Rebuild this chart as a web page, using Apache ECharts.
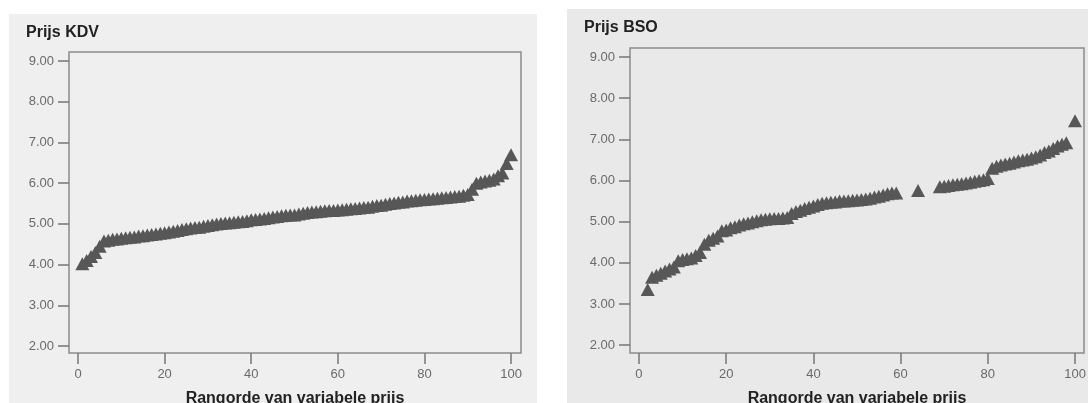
<!DOCTYPE html>
<html>
<head>
<meta charset="utf-8">
<script src="https://cdn.jsdelivr.net/npm/echarts@6/dist/echarts.min.js"></script>
<style>
html,body{margin:0;padding:0;background:#ffffff;}
#chart{width:1088px;height:403px;}
</style>
</head>
<body>
<div id="chart"></div>
<script>
// ---- data ----
const titleKDV = "Prijs KDV";
const titleBSO = "Prijs BSO";
const xAxisName = "Rangorde van variabele prijs";
const xTicks = [0, 20, 40, 60, 80, 100];
const yTicks = [2, 3, 4, 5, 6, 7, 8, 9];

const kdvRanks = [1,2,3,4,5,6,7,8,9,10,11,12,13,14,15,16,17,18,19,20,21,22,23,24,25,26,27,28,29,30,31,32,33,34,35,36,37,38,39,40,41,42,43,44,45,46,47,48,49,50,51,52,53,54,55,56,57,58,59,60,61,62,63,64,65,66,67,68,69,70,71,72,73,74,75,76,77,78,79,80,81,82,83,84,85,86,87,88,89,90,91,92,93,94,95,96,97,98,99,100];
const kdvPrices = [4.02,4.10,4.20,4.30,4.45,4.58,4.60,4.62,4.63,4.65,4.66,4.67,4.68,4.70,4.71,4.73,4.74,4.75,4.77,4.78,4.80,4.82,4.84,4.86,4.88,4.90,4.91,4.92,4.94,4.96,4.98,5.00,5.01,5.02,5.03,5.04,5.05,5.06,5.08,5.10,5.11,5.12,5.13,5.15,5.17,5.18,5.20,5.21,5.22,5.22,5.24,5.26,5.28,5.29,5.30,5.31,5.32,5.33,5.33,5.34,5.35,5.36,5.37,5.38,5.39,5.40,5.41,5.43,5.45,5.46,5.48,5.50,5.51,5.53,5.54,5.56,5.57,5.58,5.59,5.60,5.61,5.62,5.63,5.64,5.65,5.66,5.67,5.68,5.70,5.72,5.85,6.00,6.03,6.05,6.07,6.10,6.18,6.25,6.48,6.70];

const bsoRanks = [2,3,4,5,6,7,8,9,10,11,12,13,14,15,16,17,18,19,20,21,22,23,24,25,26,27,28,29,30,31,32,33,34,35,36,37,38,39,40,41,42,43,44,45,46,47,48,49,50,51,52,53,54,55,56,57,58,59,64,69,70,71,72,73,74,75,76,77,78,79,80,81,82,83,84,85,86,87,88,89,90,91,92,93,94,95,96,97,98,100];
const bsoPrices = [3.35,3.65,3.70,3.75,3.80,3.85,3.90,4.05,4.08,4.10,4.12,4.18,4.25,4.45,4.55,4.60,4.65,4.78,4.80,4.85,4.88,4.92,4.95,4.97,5.00,5.02,5.05,5.06,5.07,5.08,5.08,5.09,5.10,5.20,5.25,5.28,5.32,5.35,5.38,5.42,5.45,5.46,5.47,5.48,5.50,5.50,5.51,5.52,5.53,5.54,5.55,5.57,5.60,5.62,5.65,5.68,5.70,5.70,5.76,5.85,5.86,5.88,5.90,5.91,5.92,5.94,5.96,5.98,6.00,6.02,6.05,6.30,6.35,6.38,6.40,6.42,6.45,6.48,6.50,6.52,6.55,6.58,6.62,6.68,6.72,6.78,6.84,6.88,6.92,7.45];

// ---- chart ----
const FF = 'Liberation Sans, Arial, sans-serif';
const labelFont = {color:'#6a6a6a', fontSize:13, fontFamily:FF};
function xAx(gi, min, max){
  return {
    type:'value', gridIndex:gi, min:min, max:max,
    name:xAxisName, nameLocation:'middle', nameGap:38,
    nameTextStyle:{color:'#222', fontSize:16, fontWeight:'bold', fontFamily:FF},
    axisLine:{show:false, onZero:false},
    axisTick:{show:true, inside:false, length:11, customValues:xTicks, lineStyle:{color:'#777', width:1.5}},
    axisLabel:Object.assign({customValues:xTicks, margin:15, formatter:v=>String(v)}, labelFont),
    splitLine:{show:false}
  };
}
function yAx(gi, min, max){
  return {
    type:'value', gridIndex:gi, min:min, max:max,
    axisLine:{show:false, onZero:false},
    axisTick:{show:true, inside:false, length:11, customValues:yTicks, lineStyle:{color:'#777', width:1.5}},
    axisLabel:Object.assign({customValues:yTicks, margin:15, formatter:v=>v.toFixed(2)}, labelFont),
    splitLine:{show:false}
  };
}
const gridCommon = {show:true, borderColor:'#8c8c8c', borderWidth:1.5, backgroundColor:'transparent', containLabel:false, outerBoundsMode:'none'};
const chart = echarts.init(document.getElementById('chart'), null, {renderer:'canvas'});
chart.setOption({
  animation:false,
  backgroundColor:'#ffffff',
  graphic:[
    {type:'rect', shape:{x:9, y:14, width:528, height:389}, style:{fill:'#efefef'}, z:-10, silent:true},
    {type:'rect', shape:{x:567, y:9, width:521, height:394}, style:{fill:'#e9e9e9'}, z:-10, silent:true}
  ],
  title:[
    {text:titleKDV, left:26, top:25, padding:0, textStyle:{fontSize:16, fontWeight:'bold', color:'#222', fontFamily:FF}},
    {text:titleBSO, left:584, top:20, padding:0, textStyle:{fontSize:16, fontWeight:'bold', color:'#222', fontFamily:FF}}
  ],
  grid:[
    Object.assign({left:69, top:52, width:452, height:301}, gridCommon),
    Object.assign({left:630, top:48, width:454, height:305}, gridCommon)
  ],
  xAxis:[xAx(0, -2.08, 102.3), xAx(1, -2.06, 102.06)],
  yAxis:[yAx(0, 1.83, 9.22), yAx(1, 1.81, 9.22)],
  series:[
    {type:'scatter', xAxisIndex:0, yAxisIndex:0, symbol:'triangle', symbolSize:[14,13],
     itemStyle:{color:'#575757', opacity:1},
     data:kdvRanks.map((r,i)=>[r, kdvPrices[i]])},
    {type:'scatter', xAxisIndex:1, yAxisIndex:1, symbol:'triangle', symbolSize:[14,13],
     itemStyle:{color:'#575757', opacity:1},
     data:bsoRanks.map((r,i)=>[r, bsoPrices[i]])}
  ]
});
</script>
</body>
</html>
